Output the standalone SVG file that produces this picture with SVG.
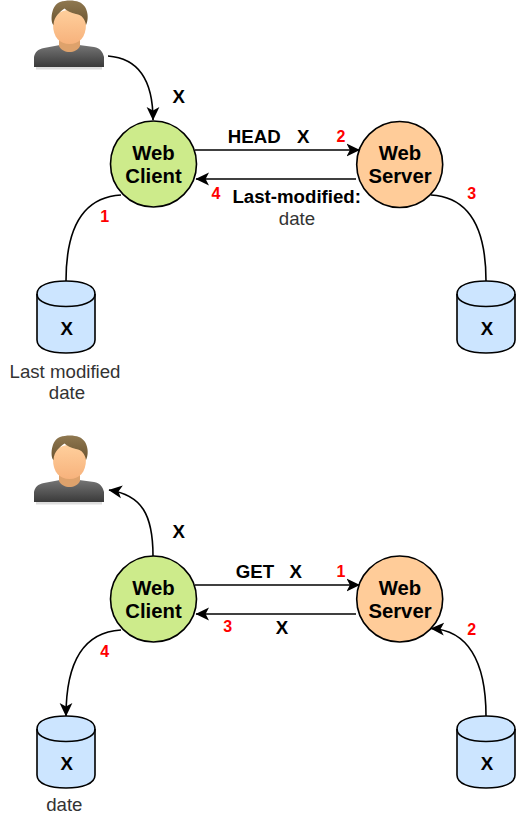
<svg xmlns="http://www.w3.org/2000/svg" width="517" height="818" viewBox="0 0 517 818">
<style>
text{font-family:"Liberation Sans",Arial,sans-serif;text-anchor:middle}
.n{font-size:20.3px;font-weight:bold;fill:#000}
.c{stroke:#000;stroke-width:1.6}
.l{font-size:18.67px;font-weight:bold;fill:#000}
.r{font-size:16px;font-weight:bold;fill:#f00}
.g{font-size:18.67px;fill:#333}
.e{fill:none;stroke:#000;stroke-width:1.6}
.db{fill:#cce5ff;stroke:#000;stroke-width:1.6}
</style>
<defs>
<marker id="a" markerUnits="userSpaceOnUse" markerWidth="16" markerHeight="16" refX="13" refY="7" orient="auto"><path d="M0 .6 13.5 7 0 13.4 3.4 7Z" fill="#000"/></marker>
<linearGradient id="sk" x1="0" y1="0" x2="0" y2="1"><stop offset="0" stop-color="#ffcf9c"/><stop offset="1" stop-color="#f7b27c"/></linearGradient>
<linearGradient id="bd" x1="0" y1="0" x2="0" y2="1"><stop offset="0" stop-color="#757575"/><stop offset="1" stop-color="#3a3a3a"/></linearGradient>
<linearGradient id="hr" x1="0" y1="0" x2="0" y2="1"><stop offset="0" stop-color="#8f7850"/><stop offset="1" stop-color="#6b5430"/></linearGradient>
<g id="user">
<rect x="36" y="67" width="66" height="2.5" fill="#ddd"/>
<path d="M34 67V57C35 52 38 49 44 48L60 45H79L94 47C100 48 103 52 104 57V67Z" fill="url(#bd)"/>
<path d="M59 40H80V46C76 54 63 54 59 46Z" fill="#dea26c"/>
<path d="M53 24C53 38 60 44 69.500 44C79 44 86 38 86 24C86 16 79 10 69.500 10C60 10 53 16 53 24Z" fill="url(#sk)"/>
<path d="M53.500 25C50 22 51 5 60 2C66 0 74 0 79 2C89 6 89 20 86 25C85 19 82 15 76 14C71 13 67 11 64.500 8.500C60 12 54 16 53.500 25Z" fill="url(#hr)"/>
</g>
<g id="cyl">
<path d="M37 294V340C37 349 50 353 66 353C82 353 95 349 95 340V294C95 285 82 281 66 281C50 281 37 285 37 294Z" class="db"/>
<path d="M37 294C37 302 50 306.500 66 306.500C82 306.500 95 302 95 294" fill="none" stroke="#000" stroke-width="1.6"/>
</g>
</defs>
<g id="connectors">
<path class="e" d="M108 56C135 58 153 75 153 120" marker-end="url(#a)"/>
<path class="e" d="M195 150H359.500" marker-end="url(#a)"/>
<path class="e" d="M356 179H196" marker-end="url(#a)"/>
<path class="e" d="M121 195C85 197 66 225 66 281"/>
<path class="e" d="M431 195C467 197 486 225 486 281"/>
<path class="e" d="M153 556C153 515 142 495 109 490" marker-end="url(#a)"/>
<path class="e" d="M195 585H359.500" marker-end="url(#a)"/>
<path class="e" d="M356 614H196" marker-end="url(#a)"/>
<path class="e" d="M121 630C85 632 66 660 66 716" marker-end="url(#a)"/>
<path class="e" d="M486 716C486 660 467 630 431 628.500" marker-end="url(#a)"/>
</g>
<g id="user1"><use href="#user"/></g>
<g id="client1"><circle class="c" cx="153.500" cy="164" r="43" fill="#cdeb8b"/><text class="n" x="153.500" y="159.500">Web</text><text class="n" x="153.500" y="183">Client</text></g>
<g id="server1"><circle class="c" cx="399.700" cy="164.500" r="43" fill="#ffcc99"/><text class="n" x="400" y="159.500">Web</text><text class="n" x="400" y="183">Server</text></g>
<g id="db1"><use href="#cyl"/><text class="l" x="66.700" y="334.500">X</text></g>
<g id="db2"><use href="#cyl" x="420"/><text class="l" x="487" y="335">X</text></g>
<g id="user2"><use href="#user" y="435"/></g>
<g id="client2"><circle class="c" cx="153.500" cy="599" r="43" fill="#cdeb8b"/><text class="n" x="153.500" y="594.500">Web</text><text class="n" x="153.500" y="618">Client</text></g>
<g id="server2"><circle class="c" cx="399.700" cy="599" r="43" fill="#ffcc99"/><text class="n" x="400" y="594.500">Web</text><text class="n" x="400" y="618">Server</text></g>
<g id="db3"><use href="#cyl" y="435"/><text class="l" x="66.700" y="769.500">X</text></g>
<g id="db4"><use href="#cyl" x="420" y="435"/><text class="l" x="487" y="769.500">X</text></g>
<g id="labels">
<text class="l" x="178.700" y="103.300">X</text>
<text class="l" x="254.300" y="143.300">HEAD</text>
<text class="l" x="303.300" y="143.300">X</text>
<text class="r" x="341" y="141.700">2</text>
<text class="r" x="216" y="199.300">4</text>
<text class="l" x="296.700" y="203.300">Last-modified:</text>
<text class="g" x="297" y="225">date</text>
<text class="r" x="104.700" y="221.700">1</text>
<text class="r" x="471.700" y="199.300">3</text>
<text class="g" x="65" y="377.700">Last modified</text>
<text class="g" x="67" y="399.300">date</text>
<text class="l" x="178.700" y="538.300">X</text>
<text class="l" x="255" y="578.300">GET</text>
<text class="l" x="295.700" y="578.300">X</text>
<text class="r" x="341" y="576.700">1</text>
<text class="r" x="227.700" y="631.700">3</text>
<text class="l" x="282" y="634.300">X</text>
<text class="r" x="104.700" y="656.700">4</text>
<text class="r" x="471.700" y="635">2</text>
<text class="g" x="64.300" y="810.700">date</text>
</g>
</svg>
